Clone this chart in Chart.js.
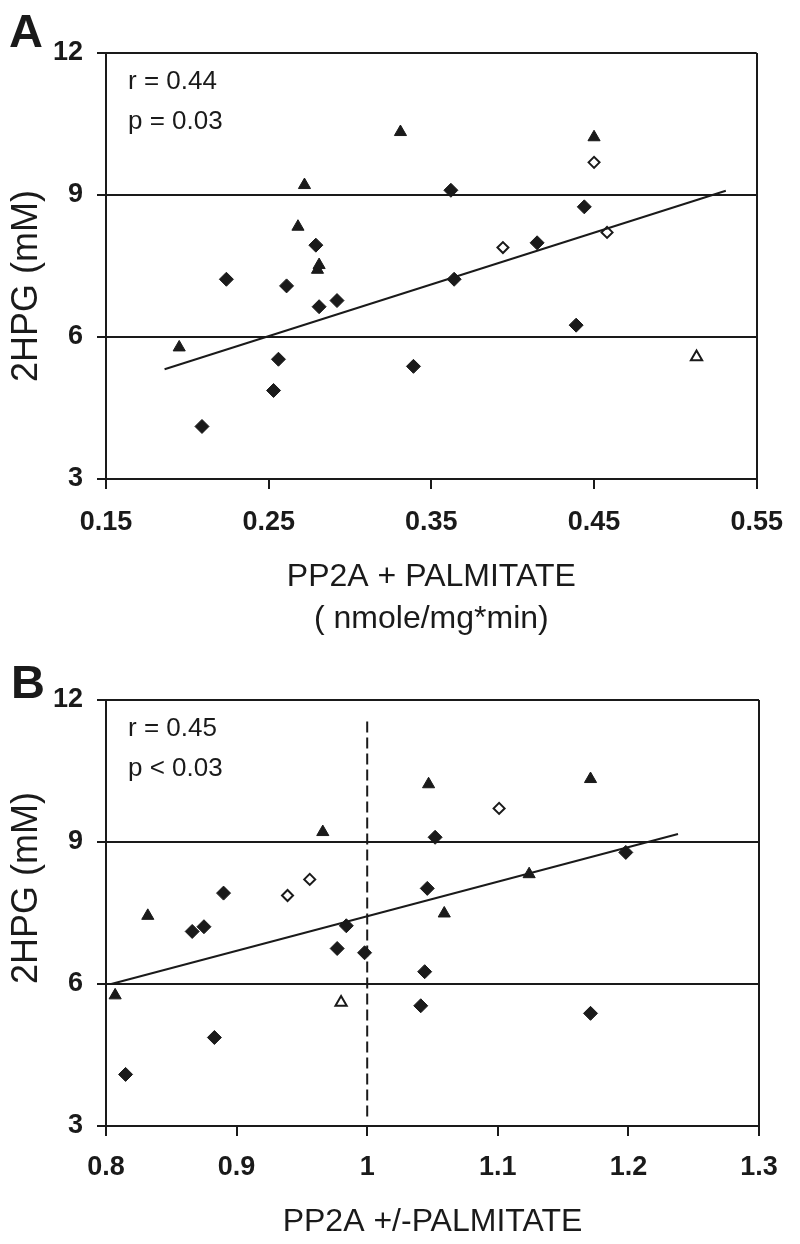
<!DOCTYPE html>
<html>
<head>
<meta charset="utf-8">
<script src="https://cdn.jsdelivr.net/npm/chart.js@4.4.1/dist/chart.umd.min.js"></script>
<style>
  body { margin: 0; background: #fff; }
  canvas { display: block; }
</style>
</head>
<body>
<canvas id="chartA" width="800" height="640"></canvas>
<canvas id="chartB" width="800" height="604"></canvas>
<script>
// ---- panel A: PP2A + palmitate ----
const aTicksX = [0.15, 0.25, 0.35, 0.45, 0.55];
const aTickLabelsX = ["0.15", "0.25", "0.35", "0.45", "0.55"];
const aDiamondX = [0.279, 0.362, 0.444, 0.415, 0.224, 0.261, 0.281, 0.292, 0.256, 0.253, 0.209, 0.364, 0.439, 0.339];
const aDiamondY = [7.94, 9.10, 8.75, 7.99, 7.22, 7.08, 6.64, 6.77, 5.53, 4.87, 4.11, 7.22, 6.25, 5.38];
const aOpenDiamondX = [0.450, 0.458, 0.394];
const aOpenDiamondY = [9.69, 8.21, 7.89];
const aTriangleX = [0.272, 0.268, 0.331, 0.450, 0.195, 0.280, 0.281];
const aTriangleY = [9.21, 8.33, 10.33, 10.22, 5.78, 7.42, 7.52];
const aOpenTriangleX = [0.513];
const aOpenTriangleY = [5.58];
const aFitX = [0.186, 0.531];
const aFitY = [5.32, 9.09];

// ---- panel B: PP2A +/- palmitate ----
const bTicksX = [0.8, 0.9, 1.0, 1.1, 1.2, 1.3];
const bTickLabelsX = ["0.8", "0.9", "1", "1.1", "1.2", "1.3"];
const bDiamondX = [1.052, 1.198, 1.046, 0.890, 0.866, 0.875, 0.984, 0.977, 0.998, 0.883, 0.815, 1.044, 1.041, 1.171];
const bDiamondY = [9.10, 8.78, 8.02, 7.92, 7.11, 7.21, 7.23, 6.75, 6.66, 4.87, 4.09, 6.26, 5.54, 5.38];
const bOpenDiamondX = [0.956, 1.101, 0.939];
const bOpenDiamondY = [8.21, 9.71, 7.87];
const bTriangleX = [0.966, 1.047, 1.171, 1.124, 0.832, 0.807, 1.059];
const bTriangleY = [9.21, 10.22, 10.33, 8.32, 7.44, 5.76, 7.49];
const bOpenTriangleX = [0.980];
const bOpenTriangleY = [5.61];
const bFitX = [0.804, 1.238];
const bFitY = [6.0, 9.17];
const bRefX = [1.0, 1.0];
const bRefY = [3.2, 11.65];

const yTicks = [3, 6, 9, 12];

const ink = "#1a1a1a";
const family = '"Liberation Sans", Arial, sans-serif';
Chart.defaults.color = ink;
Chart.defaults.font.family = family;

function pts(xs, ys) {
  return xs.map((x, i) => ({x: x, y: ys[i]}));
}

function markers(xs, ys, style, r, open) {
  return {
    data: pts(xs, ys),
    pointStyle: style,
    pointRadius: r,
    pointBackgroundColor: open ? "#fff" : ink,
    pointBorderColor: ink,
    pointBorderWidth: open ? 2 : 1,
    showLine: false
  };
}

function line(xs, ys, dash) {
  return {
    data: pts(xs, ys),
    showLine: true,
    borderColor: ink,
    borderWidth: 2,
    borderDash: dash || [],
    pointRadius: 0
  };
}

// panel letter and r / p text
const notes = {
  id: "notes",
  afterDraw(chart, args, opts) {
    const {ctx, chartArea} = chart;
    ctx.save();
    ctx.fillStyle = ink;
    ctx.textAlign = "left";
    ctx.textBaseline = "alphabetic";
    ctx.font = "bold 47px " + family;
    ctx.fillText(opts.letter, opts.letterX, chartArea.top - opts.letterUp);
    ctx.font = "26px " + family;
    ctx.fillText(opts.r, chartArea.left + 22, chartArea.top + 36);
    ctx.fillText(opts.p, chartArea.left + 22, chartArea.top + 76);
    ctx.restore();
  }
};

function panel(id, o) {
  const last = o.ticksX[o.ticksX.length - 1];
  return new Chart(document.getElementById(id), {
    type: "scatter",
    data: {datasets: o.datasets},
    options: {
      responsive: false,
      animation: false,
      events: [],
      layout: {padding: o.padding},
      plugins: {
        legend: {display: false},
        tooltip: {enabled: false},
        notes: o.notes
      },
      scales: {
        x: {
          type: "linear",
          min: o.ticksX[0],
          max: last,
          afterBuildTicks: (s) => { s.ticks = o.ticksX.map(v => ({value: v})); },
          afterFit: (s) => { s.height = o.xHeight; },
          ticks: {
            autoSkip: false,
            maxRotation: 0,
            padding: o.xTickPad,
            font: {size: 27, weight: "bold"},
            callback: (v, i) => o.tickLabelsX[i]
          },
          grid: {
            color: (c) => (c.tick && Math.abs(c.tick.value - last) < 1e-9) ? ink : "rgba(0,0,0,0)",
            lineWidth: 2,
            tickColor: ink,
            tickWidth: 2,
            tickLength: 10
          },
          border: {color: ink, width: 2},
          title: {
            display: true,
            text: o.xTitle,
            font: {size: 32, lineHeight: "42px"},
            padding: {top: 0, bottom: o.xTitlePad}
          }
        },
        y: {
          type: "linear",
          min: 3,
          max: 12,
          afterBuildTicks: (s) => { s.ticks = yTicks.map(v => ({value: v})); },
          afterFit: (s) => { s.width = 106; },
          ticks: {
            padding: 14,
            font: {size: 27, weight: "bold"}
          },
          grid: {
            color: ink,
            lineWidth: 2,
            tickColor: ink,
            tickWidth: 2,
            tickLength: 9
          },
          border: {color: ink, width: 2},
          title: {
            display: true,
            text: o.yTitle,
            font: {size: 36, lineHeight: 1.2},
            padding: {top: 5, bottom: 0}
          }
        }
      }
    },
    plugins: [notes]
  });
}

panel("chartA", {
  ticksX: aTicksX,
  tickLabelsX: aTickLabelsX,
  padding: {top: 53, right: 38, left: 0, bottom: 0},
  xHeight: 161,
  xTickPad: 17,
  xTitle: ["PP2A + PALMITATE", "( nmole/mg*min)"],
  xTitlePad: 0,
  yTitle: "2HPG (mM)    ",
  notes: {letter: "A", letterX: 9, letterUp: 6, r: "r = 0.44", p: "p = 0.03"},
  datasets: [
    line(aFitX, aFitY),
    markers(aDiamondX, aDiamondY, "rectRot", 7, false),
    markers(aOpenDiamondX, aOpenDiamondY, "rectRot", 5.5, true),
    markers(aTriangleX, aTriangleY, "triangle", 7, false),
    markers(aOpenTriangleX, aOpenTriangleY, "triangle", 6.5, true)
  ]
});

panel("chartB", {
  ticksX: bTicksX,
  tickLabelsX: bTickLabelsX,
  padding: {top: 60, right: 41, left: 0, bottom: 0},
  xHeight: 118,
  xTickPad: 15,
  xTitle: "PP2A +/-PALMITATE",
  xTitlePad: 1,
  yTitle: "     2HPG (mM)",
  notes: {letter: "B", letterX: 11, letterUp: 2, r: "r = 0.45", p: "p < 0.03"},
  datasets: [
    line(bRefX, bRefY, [11, 5]),
    line(bFitX, bFitY),
    markers(bDiamondX, bDiamondY, "rectRot", 7, false),
    markers(bOpenDiamondX, bOpenDiamondY, "rectRot", 5.5, true),
    markers(bTriangleX, bTriangleY, "triangle", 7, false),
    markers(bOpenTriangleX, bOpenTriangleY, "triangle", 6.5, true)
  ]
});
</script>
</body>
</html>
